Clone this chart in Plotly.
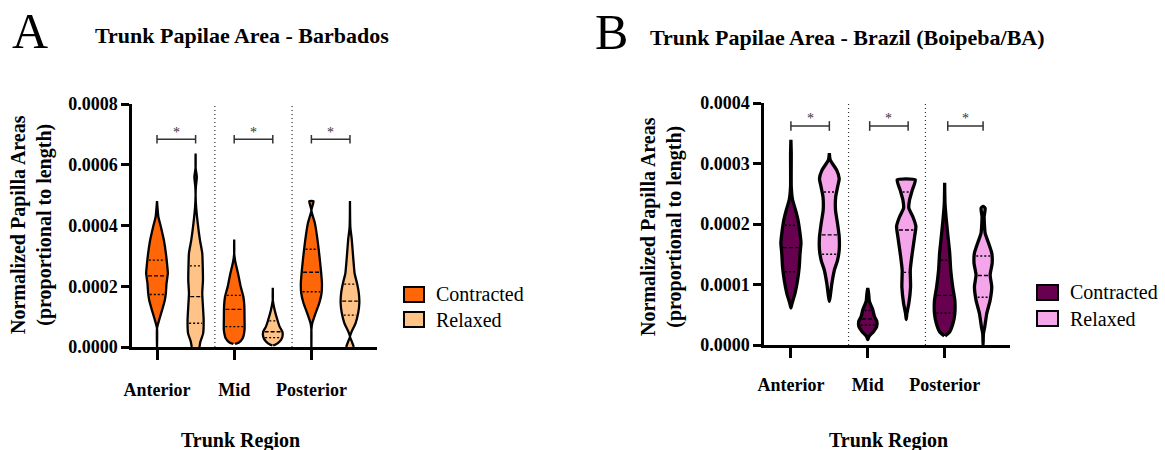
import numpy as np
import plotly.graph_objects as go

SCALE = 1e-4  # profile values below are in units of 1e-4

REGIONS = ["Anterior", "Mid", "Posterior"]
CONDITIONS = ["Contracted", "Relaxed"]
Y_TICKS_A = [0, 2, 4, 6, 8]
Y_TICKS_B = [0, 1, 2, 3, 4]

# ---------------- Panel A (Barbados) violin profiles: y level, half-width (px)
A_ANT_CON_Y = [0.0, 0.62, 0.89, 1.22, 1.55, 1.77, 2.1, 2.43, 2.64, 3.09, 3.52, 3.96, 4.29, 4.8]
A_ANT_CON_W = [0.0, 0.8, 3.3, 6.3, 9.0, 10.0, 10.7, 12.0, 11.5, 10.0, 8.0, 5.0, 2.5, 0.0]
A_ANT_REL_Y = [0.0, 0.18, 0.45, 0.89, 1.33, 1.77, 2.2, 2.64, 3.09, 3.52, 4.07, 4.6, 5.0, 5.3, 5.6, 5.9, 6.37]
A_ANT_REL_W = [5.0, 6.0, 8.7, 9.2, 8.5, 7.8, 8.5, 8.3, 7.8, 5.5, 3.3, 1.7, 0.8, 1.5, 2.4, 0.8, 0.0]
A_MID_CON_Y = [0.1, 0.14, 0.29, 0.56, 0.89, 1.33, 1.66, 1.98, 2.42, 2.8, 3.08, 3.54]
A_MID_CON_W = [2.0, 5.5, 9.7, 11.5, 11.5, 11.3, 10.3, 7.7, 5.0, 2.3, 0.8, 0.0]
A_MID_REL_Y = [0.05, 0.08, 0.18, 0.34, 0.5, 0.67, 0.89, 1.22, 1.55, 1.95]
A_MID_REL_W = [1.5, 4.0, 8.0, 10.8, 10.8, 8.0, 5.8, 3.0, 0.8, 0.0]
A_POS_CON_Y = [0.0, 0.56, 0.78, 1.11, 1.44, 1.77, 2.1, 2.42, 2.97, 3.52, 4.07, 4.5, 4.8]
A_POS_CON_W = [0.0, 0.5, 2.0, 5.3, 9.0, 11.3, 11.7, 11.0, 9.3, 7.3, 4.7, 1.0, 3.3]
A_POS_REL_Y = [0.0, 0.18, 0.34, 0.5, 0.78, 1.11, 1.44, 1.77, 2.1, 2.42, 2.97, 3.52, 3.96, 4.81]
A_POS_REL_W = [5.0, 3.0, 0.8, 2.7, 6.7, 9.3, 10.5, 10.0, 8.2, 5.8, 4.3, 3.0, 1.5, 0.0]
# quartiles [Q1, median, Q3]
A_QUARTILES = [
    [1.73, 2.34, 2.86],
    [0.78, 1.66, 2.67],
    [0.67, 1.24, 1.70],
    [0.31, 0.50, 0.86],
    [1.82, 2.46, 3.22],
    [1.05, 1.51, 2.07],
]

# ---------------- Panel B (Brazil, Boipeba/BA)
B_ANT_CON_Y = [0.61, 0.69, 0.85, 1.07, 1.29, 1.52, 1.68, 1.85, 2.07, 2.23, 2.4, 2.62, 3.17, 3.39]
B_ANT_CON_W = [0.5, 2.8, 5.7, 8.3, 10.0, 10.8, 11.7, 10.7, 8.7, 6.3, 3.3, 2.0, 2.0, 0.3]
B_ANT_REL_Y = [0.72, 0.8, 1.02, 1.24, 1.4, 1.57, 1.79, 2.01, 2.23, 2.45, 2.62, 2.75, 2.89, 3.06, 3.17]
B_ANT_REL_W = [0.5, 2.5, 4.2, 6.7, 9.8, 11.5, 11.5, 9.8, 7.8, 8.0, 10.0, 11.5, 9.0, 2.5, 0.5]
B_MID_CON_Y = [0.09, 0.14, 0.22, 0.3, 0.39, 0.47, 0.58, 0.72, 0.85, 0.94]
B_MID_CON_W = [0.5, 2.8, 7.3, 10.5, 10.7, 8.3, 6.7, 3.3, 2.5, 0.5]
B_MID_REL_Y = [0.42, 0.52, 0.69, 0.96, 1.24, 1.52, 1.79, 1.96, 2.12, 2.26, 2.4, 2.56, 2.73]
B_MID_REL_W = [0.5, 2.3, 4.3, 6.0, 5.7, 7.7, 10.0, 11.3, 8.3, 4.3, 5.0, 7.7, 10.7]
B_POS_CON_Y = [0.15, 0.22, 0.36, 0.52, 0.74, 0.96, 1.24, 1.52, 1.79, 2.07, 2.34, 2.68]
B_POS_CON_W = [2.0, 6.7, 10.0, 11.8, 11.8, 9.7, 7.7, 6.7, 5.0, 3.3, 2.0, 0.3]
B_POS_REL_Y = [0.0, 0.19, 0.3, 0.52, 0.74, 0.96, 1.16, 1.35, 1.52, 1.68, 1.85, 2.12, 2.26, 2.29]
B_POS_REL_W = [0.3, 2.0, 3.3, 5.3, 8.7, 10.3, 8.7, 10.7, 10.3, 7.2, 3.7, 2.7, 3.7, 2.0]
B_QUARTILES = [
    [1.21, 1.61, 1.98],
    [1.50, 1.82, 2.53],
    [0.33, 0.43, 0.57],
    [1.20, 1.90, 2.53],
    [0.53, 0.82, 1.40],
    [0.79, 1.15, 1.47],
]

# significance brackets (pairs of group positions) and their level
A_BRACKETS = [(0, 1), (2, 3), (4, 5)]
B_BRACKETS = [(0, 1), (2.05, 3.05), (4.08, 5.0)]
A_BRACKET_Y = 6.84
B_BRACKET_Y = 3.62
SEPARATORS = [1.5, 3.5]

A_COLORS = ["#FF6608", "#FFC388"]
B_COLORS = ["#67004F", "#F5A6EA"]

FONT = "Liberation Serif, Times New Roman, serif"
W, H = 1165, 450

panels = [
    dict(xa="x", ya="y",
         profiles=[(A_ANT_CON_Y, A_ANT_CON_W), (A_ANT_REL_Y, A_ANT_REL_W),
                   (A_MID_CON_Y, A_MID_CON_W), (A_MID_REL_Y, A_MID_REL_W),
                   (A_POS_CON_Y, A_POS_CON_W), (A_POS_REL_Y, A_POS_REL_W)],
         quart=A_QUARTILES, colors=A_COLORS, lw=2.3, pxunit=38.6,
         brackets=A_BRACKETS, by=A_BRACKET_Y, btick=0.14, ytop=8),
    dict(xa="x2", ya="y2",
         profiles=[(B_ANT_CON_Y, B_ANT_CON_W), (B_ANT_REL_Y, B_ANT_REL_W),
                   (B_MID_CON_Y, B_MID_CON_W), (B_MID_REL_Y, B_MID_REL_W),
                   (B_POS_CON_Y, B_POS_CON_W), (B_POS_REL_Y, B_POS_REL_W)],
         quart=B_QUARTILES, colors=B_COLORS, lw=3.3, pxunit=38.4,
         brackets=B_BRACKETS, by=B_BRACKET_Y, btick=0.08, ytop=4),
]

fig = go.Figure()
annotations = []

for p in panels:
    # separators
    for s in SEPARATORS:
        fig.add_trace(go.Scatter(x=[s, s], y=[0, p["ytop"] * SCALE], mode="lines",
                                 line=dict(color="#333333", width=1.2, dash="1px,3px"),
                                 xaxis=p["xa"], yaxis=p["ya"], showlegend=False, hoverinfo="skip"))
    for i, (ys, ws) in enumerate(p["profiles"]):
        ys = np.array(ys, dtype=float)
        ws = np.array(ws, dtype=float)
        wu = np.maximum(ws - p["lw"] / 2, 0) / p["pxunit"]
        xs = np.concatenate([i + wu, (i - wu)[::-1]])
        yy = np.concatenate([ys, ys[::-1]]) * SCALE
        fig.add_trace(go.Scatter(x=xs, y=yy, mode="lines", fill="toself",
                                 fillcolor=p["colors"][i % 2],
                                 line=dict(color="black", width=p["lw"], shape="spline", smoothing=0.5),
                                 xaxis=p["xa"], yaxis=p["ya"], showlegend=False,
                                 name=f"{REGIONS[i // 2]} {CONDITIONS[i % 2]}", hoverinfo="name"))
        for q, dash in zip(p["quart"][i], ["2px,2px", "4px,2px", "2px,2px"]):
            hw = max(np.interp(q, ys, ws) - p["lw"] - 0.3, 0.5) / p["pxunit"]
            fig.add_trace(go.Scatter(x=[i - hw, i + hw], y=[q * SCALE, q * SCALE], mode="lines",
                                     line=dict(color="black", width=1.4, dash=dash),
                                     xaxis=p["xa"], yaxis=p["ya"], showlegend=False, hoverinfo="skip"))
    # brackets
    for (a, b) in p["brackets"]:
        by = p["by"] * SCALE
        t = p["btick"] * SCALE
        fig.add_trace(go.Scatter(x=[a, a, None, a, b, None, b, b],
                                 y=[by - t, by + t, None, by, by, None, by - t, by + t],
                                 mode="lines", line=dict(color="#333333", width=1.5),
                                 xaxis=p["xa"], yaxis=p["ya"], showlegend=False, hoverinfo="skip"))
        annotations.append(dict(x=(a + b) / 2, y=by, xref=p["xa"], yref=p["ya"], text="*",
                                showarrow=False, yshift=7, font=dict(family=FONT, size=14, color="#333333")))

axis_common = dict(showline=True, linecolor="black", linewidth=2.5, ticks="outside",
                   tickcolor="black", tickwidth=2.5, showgrid=False, zeroline=False, automargin=False,
                   tickfont=dict(family=FONT, size=18, color="black", weight="bold"))

fig.update_layout(
    width=W, height=H, margin=dict(l=0, r=0, t=0, b=0, pad=0, autoexpand=False),
    paper_bgcolor="white", plot_bgcolor="white", showlegend=False,
    xaxis=dict(domain=[132 / W, 377 / W], range=[-0.648, 5.70], tickvals=[0, 2, 4], ticktext=REGIONS,
               ticklen=10, ticklabelstandoff=15, anchor="y", **axis_common),
    yaxis=dict(domain=[(H - 347) / H, (H - 104) / H], range=[0, 8 * SCALE],
               tickvals=[v * SCALE for v in Y_TICKS_A], ticktext=[f"{v * SCALE:.4f}" for v in Y_TICKS_A],
               ticklen=8, anchor="x", **axis_common),
    xaxis2=dict(domain=[764 / W, 1010 / W], range=[-0.70, 5.70], tickvals=[0, 2, 4], ticktext=REGIONS,
                ticklen=10, ticklabelstandoff=12, anchor="y2", **axis_common),
    yaxis2=dict(domain=[(H - 345) / H, (H - 103) / H], range=[0, 4 * SCALE],
                tickvals=[v * SCALE for v in Y_TICKS_B], ticktext=[f"{v * SCALE:.4f}" for v in Y_TICKS_B],
                ticklen=8, anchor="x2", **axis_common),
)

def pa(x, y, text, size, bold=False, angle=0, xanchor="center"):
    return dict(x=x / W, y=1 - y / H, xref="paper", yref="paper", text=text, showarrow=False,
                textangle=angle, xanchor=xanchor, yanchor="middle",
                font=dict(family=FONT, size=size, color="black", weight="bold" if bold else "normal"))

annotations += [
    pa(30, 31, "A", 50),
    pa(611, 32, "B", 50),
    pa(242, 36, "Trunk Papilae Area - Barbados", 22, True),
    pa(847, 38, "Trunk Papilae Area - Brazil (Boipeba/BA)", 22, True),
    pa(31, 225, "Normalized Papilla Areas<br>(proportional to length)", 20, True, -90),
    pa(661, 227, "Normalized Papilla Areas<br>(proportional to length)", 20, True, -90),
    pa(240, 440, "Trunk Region", 20, True),
    pa(888, 440, "Trunk Region", 20, True),
]

shapes = []
legend_specs = [
    (404, 424, [(287, 302), (312, 327)], A_COLORS, 434, [294, 320]),
    (1037, 1058, [(285, 300), (311, 326)], B_COLORS, 1068, [292, 319]),
]
for x0, x1, boxes, cols, tx, tys in legend_specs:
    for (y0, y1), c, name, ty in zip(boxes, cols, CONDITIONS, tys):
        shapes.append(dict(type="rect", xref="paper", yref="paper", x0=x0 / W, x1=x1 / W,
                           y0=1 - y1 / H, y1=1 - y0 / H, fillcolor=c, line=dict(color="black", width=2)))
        annotations.append(pa(tx, ty, name, 20, False, 0, "left"))

fig.update_layout(annotations=annotations, shapes=shapes)
fig.write_html("out.html")
